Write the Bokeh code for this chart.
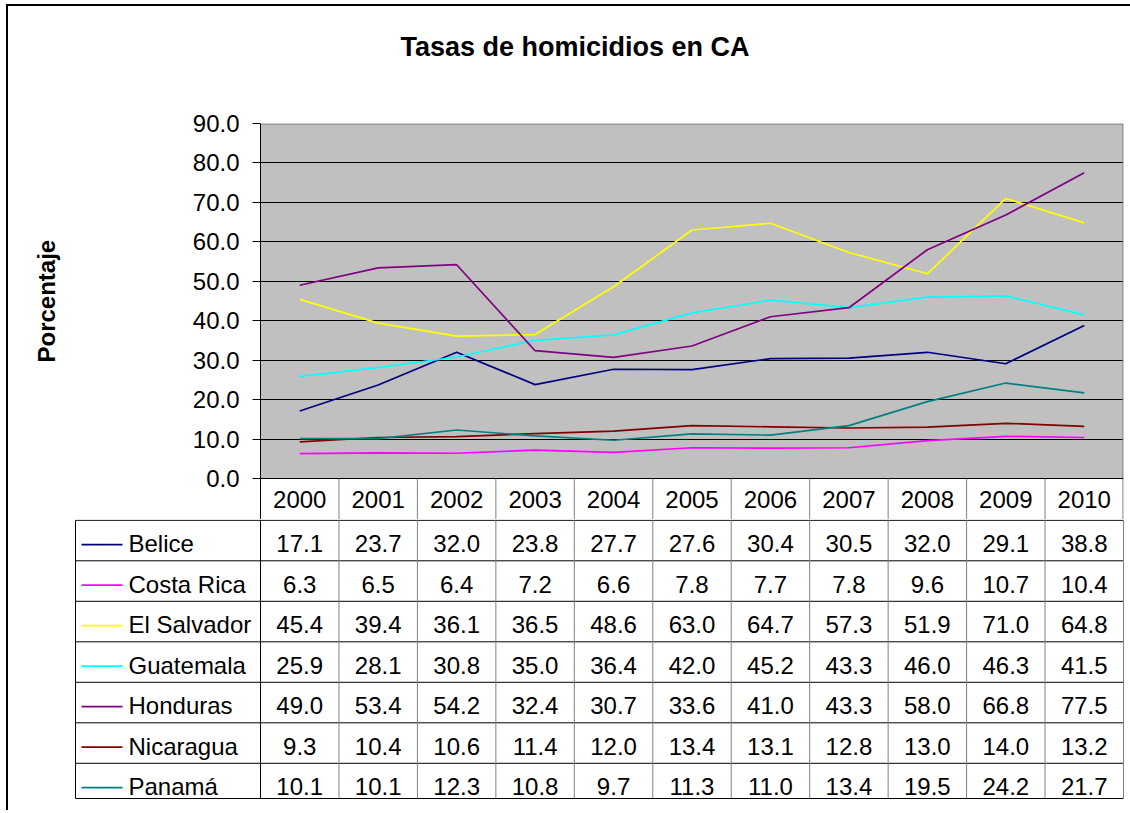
from bokeh.plotting import figure
from bokeh.models import Range1d, FixedTicker, PrintfTickFormatter, Title
from bokeh.layouts import column
from bokeh.embed import file_html
from bokeh.resources import INLINE
from bokeh.core.properties import value

# ---------------- data ----------------
years = [2000, 2001, 2002, 2003, 2004, 2005, 2006, 2007, 2008, 2009, 2010]
countries = ["Belice", "Costa Rica", "El Salvador", "Guatemala", "Honduras", "Nicaragua", "Panamá"]
belice = [17.1, 23.7, 32.0, 23.8, 27.7, 27.6, 30.4, 30.5, 32.0, 29.1, 38.8]
costa_rica = [6.3, 6.5, 6.4, 7.2, 6.6, 7.8, 7.7, 7.8, 9.6, 10.7, 10.4]
el_salvador = [45.4, 39.4, 36.1, 36.5, 48.6, 63.0, 64.7, 57.3, 51.9, 71.0, 64.8]
guatemala = [25.9, 28.1, 30.8, 35.0, 36.4, 42.0, 45.2, 43.3, 46.0, 46.3, 41.5]
honduras = [49.0, 53.4, 54.2, 32.4, 30.7, 33.6, 41.0, 43.3, 58.0, 66.8, 77.5]
nicaragua = [9.3, 10.4, 10.6, 11.4, 12.0, 13.4, 13.1, 12.8, 13.0, 14.0, 13.2]
panama = [10.1, 10.1, 12.3, 10.8, 9.7, 11.3, 11.0, 13.4, 19.5, 24.2, 21.7]
y_ticks = [0, 10, 20, 30, 40, 50, 60, 70, 80, 90]
title_text = "Tasas de homicidios en CA"
y_label = "Porcentaje"

series = [belice, costa_rica, el_salvador, guatemala, honduras, nicaragua, panama]
colors = ["#000080", "#FF00FF", "#FFFF00", "#00FFFF", "#800080", "#800000", "#008080"]

FONT = value("Liberation Sans")
W = 1122
TOP_A = 117
CHART_PX = 355
HEADER_PX = 41
HA = TOP_A + CHART_PX + HEADER_PX
HB = 291
LEFT_A = 252
RIGHT_A = 7
FRAME_A_W = W - LEFT_A - RIGHT_A
u = len(years) / FRAME_A_W                       # x data units per pixel
v = (y_ticks[-1] - y_ticks[0]) / CHART_PX        # y data units per pixel
x_lo, x_hi = years[0] - 0.5, years[-1] + 0.5
y_head = y_ticks[0] - HEADER_PX * v

# ---------------- chart (with the year header row) ----------------
pA = figure(width=W, height=HA, output_backend="svg", toolbar_location=None,
            x_range=Range1d(x_lo, x_hi), y_range=Range1d(y_head, y_ticks[-1]),
            x_axis_type=None,
            min_border_left=LEFT_A, min_border_right=RIGHT_A,
            min_border_top=TOP_A, min_border_bottom=0)
pA.frame_align = False
pA.background_fill_color = "#C0C0C0"
pA.border_fill_color = "white"
pA.outline_line_color = None

# title: spacer (closest to the frame) + real title above it
pA.add_layout(Title(text=" ", text_font_size="1px", standoff=59), "above")
pA.add_layout(Title(text=title_text, text_font="Liberation Sans", text_font_size="27px",
                    text_font_style="bold", text_color="black", align="left",
                    offset=140, standoff=0), "above")

ya = pA.yaxis[0]
ya.ticker = FixedTicker(ticks=y_ticks)
ya.formatter = PrintfTickFormatter(format="%.1f")
ya.major_label_text_font = "Liberation Sans"
ya.major_label_text_font_size = "24px"
ya.major_label_text_color = "black"
ya.major_label_standoff = 13
ya.major_tick_in = 0
ya.major_tick_out = 8
ya.major_tick_line_color = "black"
ya.minor_tick_line_color = None
ya.axis_line_color = "black"

# y-axis title: spacer next to the axis + rotated title, centred on the plot area
pA.add_layout(Title(text=" ", text_font_size="1px", standoff=127), "left")
pA.add_layout(Title(text=y_label, text_font="Liberation Sans", text_font_size="24px",
                    text_font_style="bold", text_color="black", align="left",
                    vertical_align="bottom", offset=157, standoff=0), "left")

pA.ygrid.ticker = FixedTicker(ticks=y_ticks[1:-1])
pA.ygrid.grid_line_color = "black"
pA.ygrid.grid_line_width = 1
pA.xgrid.visible = False

# white header row under the plot area
pA.quad(left=[x_lo], right=[x_hi], bottom=[y_head], top=[y_ticks[0]],
        fill_color="white", line_color=None)

for s, c in zip(series, colors):
    pA.line(years, s, line_color=c, line_width=1.7)

# borders: gray top/right, black zero line, gray column separators in header
ax0 = [x_lo, x_hi - 0.6 * u, x_lo]
ay0 = [y_ticks[-1] - 0.6 * v, y_ticks[-1], y_ticks[0]]
ax1 = [x_hi, x_hi - 0.6 * u, x_hi]
ay1 = [y_ticks[-1] - 0.6 * v, y_head, y_ticks[0]]
acol = ["#808080", "#808080", "black"]
for k in range(1, len(years)):
    xv = x_lo + k
    ax0.append(xv); ay0.append(y_head); ax1.append(xv); ay1.append(y_ticks[0]); acol.append("#808080")
pA.segment(x0=ax0, y0=ay0, x1=ax1, y1=ay1, line_color=acol, line_width=1)

pA.text(x=years, y=[y_head / 2] * len(years), text=[str(y) for y in years],
        text_font=FONT, text_font_size=value("24px"), text_color="black",
        text_align="center", text_baseline="middle")

# ---------------- data rows ----------------
LEFT_B = 66
RIGHT_B = 6
HB_BOTTOM = 11
RH = 40.5
xB_end = x_hi + u
frame_b_px = W - LEFT_B - RIGHT_B
xB_start = xB_end - frame_b_px * u
table_left = xB_start + u
nrows = len(countries)
yr_end = 1 - 0.02
yr_start = yr_end + (HB - HB_BOTTOM) / RH
y_bot = yr_start - 1.0 / RH

pB = figure(width=W, height=HB, output_backend="svg", toolbar_location=None,
            x_range=Range1d(xB_start, xB_end), y_range=Range1d(yr_start, yr_end),
            x_axis_type=None, y_axis_type=None,
            min_border_left=LEFT_B, min_border_right=RIGHT_B,
            min_border_top=0, min_border_bottom=HB_BOTTOM)
pB.frame_align = False
pB.outline_line_color = None
pB.background_fill_color = "white"
pB.border_fill_color = "white"
pB.grid.visible = False

x0, y0, x1, y1, lc = [], [], [], [], []
for r in range(1, nrows + 1):
    x0.append(table_left); y0.append(r); x1.append(x_hi); y1.append(r); lc.append("black")
x0.append(table_left); y0.append(y_bot); x1.append(x_hi); y1.append(y_bot); lc.append("black")
x0.append(table_left); y0.append(1); x1.append(table_left); y1.append(y_bot); lc.append("black")
for k in range(len(years) + 1):
    xv = x_lo + k
    x0.append(xv); y0.append(1); x1.append(xv); y1.append(y_bot)
    lc.append("black" if k == 0 else "#808080")
pB.segment(x0=x0, y0=y0, x1=x1, y1=y1, line_color=lc, line_width=1)

off = 3
for r, (name, s, c) in enumerate(zip(countries, series, colors), start=1):
    yc = r + 0.5
    pB.text(x=years, y=[yc] * len(years), text=[f"{val:.1f}" for val in s],
            text_font=FONT, text_font_size=value("24px"), text_color="black",
            text_align="center", text_baseline="middle", y_offset=off)
    pB.text(x=[table_left + 53 * u], y=[yc], text=[name],
            text_font=FONT, text_font_size=value("24px"), text_color="black",
            text_align="left", text_baseline="middle", y_offset=off)
    ys = yc + (off + 1) / RH
    pB.segment(x0=[table_left + 6 * u], y0=[ys], x1=[table_left + 47 * u], y1=[ys],
               line_color=c, line_width=1.7)

layout = column(pA, pB, styles={"border-left": "2px solid black", "border-top": "2px solid black",
                                "margin-left": "6px", "margin-top": "4px"})

open("out.html", "w").write(file_html(layout, INLINE))
